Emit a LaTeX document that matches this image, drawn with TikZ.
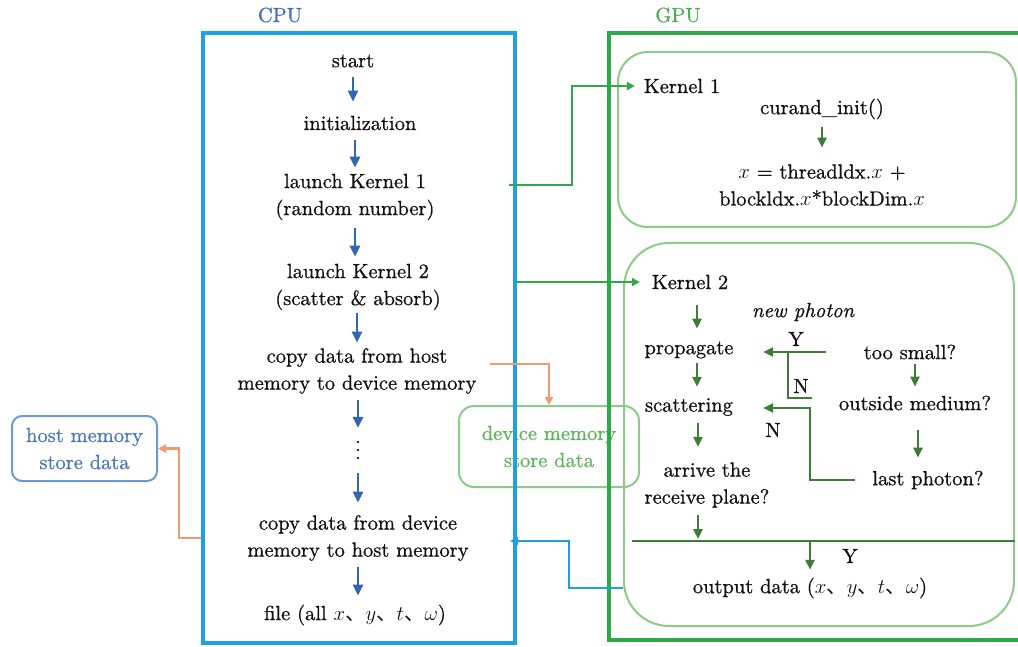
\documentclass[tikz,border=0pt]{standalone}
\usepackage{fontspec}
\setmainfont{lmroman10-regular.otf}[ItalicFont=lmroman10-italic.otf,FakeBold=0.8]
\newfontfamily\cjk{Noto Sans CJK SC}
\usetikzlibrary{arrows.meta}
\newcommand{\dn}{{\cjk 、}}
\definecolor{cpuframe}{HTML}{1EA0E1}
\definecolor{cpuarrow}{HTML}{3366B0}
\definecolor{cpulabel}{HTML}{3F6FB9}
\definecolor{gpuframe}{HTML}{30A84A}
\definecolor{gpulabel}{HTML}{4FAE54}
\definecolor{lgreen}{HTML}{8CCB88}
\definecolor{devtext}{HTML}{5DB55A}
\definecolor{dkgreen}{HTML}{3E7D37}
\definecolor{orangec}{HTML}{F19A6E}
\definecolor{hostbox}{HTML}{6A9BD6}
\definecolor{hosttext}{HTML}{4A79BB}
\definecolor{ink}{HTML}{111111}
\begin{document}
\begin{tikzpicture}[x=1pt,y=-1pt,
  font=\fontsize{20.5}{27}\selectfont,
  txt/.style={align=center,inner sep=0pt,text=ink},
  carr/.style={draw=cpuarrow,line width=2.6pt,-{Triangle[length=11pt,width=10pt]}},
  karr/.style={draw=dkgreen,line width=2.6pt,-{Triangle[length=10pt,width=9pt]}},
  kline/.style={draw=dkgreen,line width=2.6pt},
  gconn/.style={draw=gpuframe,line width=2.6pt,-{Triangle[length=8pt,width=8pt]}},
  oconn/.style={draw=orangec,line width=2.6pt,-{Triangle[length=8pt,width=8pt]}},
  bconn/.style={draw=cpuframe,line width=2.8pt,-{Triangle[length=8pt,width=8pt]}},
  lgbox/.style={draw=lgreen,line width=2pt,inner sep=0pt},
]
\useasboundingbox (0,0) rectangle (1018,647);

% ---- memory boxes ----
\node[lgbox,rounded corners=15pt,minimum width=180pt,minimum height=81pt,
      align=center,text=devtext] (devbox) at (549,446.5) {device memory\\store data};
\node[draw=hostbox,line width=2pt,rounded corners=10pt,minimum width=145pt,minimum height=65pt,
      inner sep=0pt,align=center,text=hosttext] (hostbox) at (84.5,448.5) {host memory\\store data};

% ---- frames ----
\node[text=cpulabel] (cpulbl) at (280,15) {CPU};
\node[text=gpulabel] (gpulbl) at (678,15) {GPU};
\node[draw=cpuframe,line width=4pt,minimum width=312pt,minimum height=610pt,inner sep=0pt] (cpu) at (359,338) {};
\draw[draw=gpuframe,line width=4pt] (1018,33) -- (609,33) -- (609,640) -- (1018,640);
\node[lgbox,rounded corners=30pt,minimum width=398pt,minimum height=175pt] (k1box) at (817,139.5) {};
\node[lgbox,rounded corners=45pt,minimum width=390pt,minimum height=383pt] (k2box) at (819,434.5) {};

% ---- host steps ----
\node[txt] (start) at (353,61) {start};
\node[txt] (init) at (360,123) {initialization};
\node[txt] (launch1) at (355,197) {launch Kernel 1\\(random number)};
\node[txt] (launch2) at (358,287) {launch Kernel 2\\(scatter \& absorb)};
\node[txt] (copyin) at (357,371) {copy data from host\\memory to device memory};
% vertical ellipsis: a dotted run turned upright (east end points up)
\node[txt,rotate=90] (dots) at (358,450) {.\kern2.3pt.\kern2.3pt.};
\node[txt] (copyout) at (358,538) {copy data from device\\memory to host memory};
\node[txt] (file) at (355,615) {file (all $x$\dn$y$\dn$t$\dn$\omega$)};

\draw[carr,shorten <=9.7pt,shorten >=13.9pt] (start.south) -- (start.south |- init.north);
\draw[carr,shorten <=9.9pt,shorten >=5.9pt] (launch1 |- init.south) -- (launch1.north);
\draw[carr,shorten <=7.8pt,shorten >=6.9pt] (launch1.south) -- (launch1.south |- launch2.north);
\draw[carr,shorten <=2.8pt,shorten >=5.4pt] (copyin |- launch2.south) -- (copyin.north);
\draw[carr,shorten <=6.4pt,shorten >=11pt] (dots |- copyin.south) -- (dots.east);
\draw[carr,shorten <=12pt,shorten >=12.4pt] (dots.west) -- (dots.west |- copyout.north);
\draw[carr,shorten <=6.4pt,shorten >=8.9pt] (copyout.south) -- (copyout.south |- file.north);

% ---- kernel 1 ----
\node[txt] (kernel1) at (682,86) {Kernel 1};
\node[txt] (curand) at (822,109) {curand\_init()};
\node[txt] (xidx) at (822,185) {$x$ = threadldx.$x$ +\\blockldx.$x$*blockDim.$x$};
\draw[karr,shorten <=7.8pt,shorten >=16.4pt] (curand.south) -- (curand.south |- xidx.north);

% ---- kernel 2 ----
\node[txt] (kernel2) at (690,282) {Kernel 2};
\node[txt] (propagate) at (689,350) {propagate};
\node[txt] (scattering) at (689,407) {scattering};
\node[txt] (arrive) at (707,485) {arrive the\\receive plane?};
\node[txt] (output) at (810,588) {output data ($x$\dn$y$\dn$t$\dn$\omega$)};
\node[txt,font=\fontsize{20.5}{27}\selectfont\itshape] (newph) at (803,312) {new photon};
\node[txt] (toosmall) at (910,352) {too small?};
\node[txt] (outside) at (915,403) {outside medium?};
\node[txt] (last) at (928,480) {last photon?};
\node[txt] (ylab) at (796,339) {Y};
\node[txt] (nlab1) at (801,386) {N};
\node[txt] (nlab2) at (773,430) {N};
\node[txt] (ylab2) at (850,556) {Y};

\coordinate (splitL) at (632,541);
\coordinate (splitR) at (1015,541);
\coordinate (yfork) at (788,352);
\coordinate (nstub) at (812,398);
\coordinate (nturn) at (810,408);

\draw[karr,shorten <=15.9pt,shorten >=12.7pt] ([xshift=7pt]kernel2.south) -- ([xshift=7pt]kernel2.south |- propagate.north);
\draw[karr,shorten <=4.7pt,shorten >=11.2pt] ([xshift=8pt]propagate.south) -- ([xshift=8pt]propagate.south |- scattering.north);
\draw[karr,shorten <=7.1pt,shorten >=15.4pt] ([xshift=9pt]scattering.south) -- ([xshift=9pt]scattering.south |- arrive.north);
\draw[karr,shorten <=7.4pt,shorten >=2pt] ([xshift=-9pt]arrive.south) -- ([xshift=-9pt]arrive.south |- splitL);
\draw[kline] (splitL) -- (splitR);
\draw[karr,shorten >=7.8pt] (output.north |- splitL) -- (output.north);
\draw[karr,shorten <=4.9pt,shorten >=8.9pt] (outside |- toosmall.south) -- (outside.north);
\draw[karr,shorten <=19.9pt,shorten >=12.9pt] ([xshift=3pt]outside.south) -- ([xshift=3pt]outside.south |- last.north);
\draw[karr,shorten <=38pt,shorten >=29.5pt] (toosmall.west) -- (toosmall.west -| propagate.east);
\draw[kline] (yfork) |- (nstub);
\draw[karr,shorten <=17.4pt,shorten >=30pt] (last.west) -| (nturn) -- (nturn -| scattering.east);

% ---- host / device connectors ----
\coordinate (k1turn) at (572,86);
\coordinate (hturn) at (179,448.5);
\coordinate (bturn) at (569,541);
\draw[gconn,shorten >=8.8pt] ([xshift=-8pt,yshift=12pt]cpu.east |- launch1) -| (k1turn) -- (kernel1.west);
\draw[gconn,shorten >=11.8pt] (cpu.east |- kernel2) -- (kernel2.west);
\draw[oconn] ([xshift=13.7pt,yshift=7pt]copyin.east) -| (devbox.north);
\draw[oconn] (cpu.west |- copyout) -| (hturn) -- (hostbox.east);
\draw[bconn,shorten >=-7pt] (k2box.west |- output) -| (bturn) -- (cpu.east |- bturn);
\end{tikzpicture}
\end{document}
